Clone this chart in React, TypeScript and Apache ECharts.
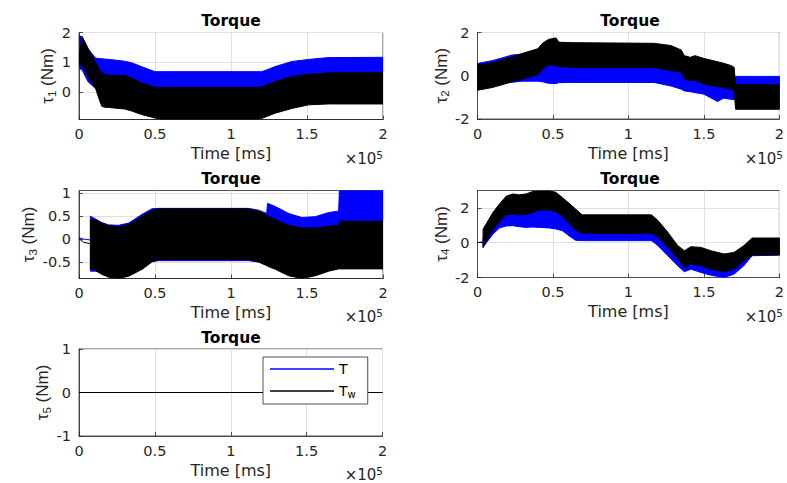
import React, { useEffect, useRef } from "react";
import * as echarts from "echarts";

// ---------- data (time in ms, torque in Nm) ----------
const xTicks = [0, 50000, 100000, 150000, 200000];

// Plot 1 (tau_1): envelopes of the oscillating signals
const t1 = [0, 2000, 6000, 11000, 13000, 15000, 17000, 20000, 30000, 35000, 41000, 50000, 55000, 117000, 120000, 123000, 129000, 140000, 151000, 164000, 200000];
const blueHi1 = [1.9, 1.85, 1.45, 1.14, 1.13, 1.12, 1.11, 1.1, 1.04, 0.98, 0.86, 0.69, 0.69, 0.69, 0.69, 0.74, 0.86, 1.03, 1.1, 1.16, 1.17];
const blueLo1 = [0.8, 0.75, 0.35, 0.12, 0.1, 0.08, 0.05, 0.05, 0.0, -0.1, -0.2, -0.3, -0.3, -0.3, -0.3, -0.25, -0.15, 0.0, 0.1, 0.15, 0.15];
const blackHi1 = [1.15, 1.87, 1.47, 0.98, 0.8, 0.65, 0.6, 0.57, 0.56, 0.47, 0.32, 0.16, 0.16, 0.16, 0.18, 0.24, 0.36, 0.53, 0.6, 0.65, 0.65];
const blackLo1 = [0.95, 0.9, 0.5, 0.12, -0.2, -0.47, -0.5, -0.51, -0.56, -0.63, -0.74, -0.86, -0.9, -0.9, -0.88, -0.82, -0.7, -0.54, -0.42, -0.39, -0.39];

// Plot 2 (tau_2)
const t2 = [0, 10000, 23000, 30000, 40000, 43000, 47000, 52000, 54000, 63000, 117000, 128000, 135000, 137000, 141000, 144000, 150000, 159000, 163000, 168000, 170000, 171000, 200000];
const blackHi2 = [0.51, 0.6, 0.88, 1.04, 1.25, 1.5, 1.68, 1.75, 1.55, 1.53, 1.5, 1.4, 1.19, 0.93, 0.85, 0.93, 0.8, 0.65, 0.58, 0.47, 0.39, -0.42, -0.42];
const blackLo2 = [-0.67, -0.54, -0.28, -0.15, 0.05, 0.31, 0.51, 0.47, 0.42, 0.39, 0.39, 0.23, 0.16, -0.15, -0.23, -0.2, -0.39, -0.5, -0.55, -0.62, -0.7, -1.55, -1.55];
const blueHi2 = [0.57, 0.7, 0.96, 1.0, 1.1, 1.1, 1.0, 1.0, 1.0, 1.0, 1.0, 0.9, 0.7, 0.5, 0.4, 0.4, 0.3, 0.15, 0.1, 0.0, -0.05, -0.03, -0.03];
const blueLo2 = [-0.47, -0.35, -0.3, -0.25, -0.25, -0.28, -0.35, -0.36, -0.32, -0.31, -0.31, -0.47, -0.62, -0.7, -0.74, -0.78, -0.85, -1.19, -1.04, -1.09, -1.1, -0.6, -0.6];

// Plot 3 (tau_3)
const t3 = [7500, 10800, 15000, 19500, 26000, 32700, 41500, 48000, 52400, 111600, 118200, 123500, 124000, 129200, 137900, 146700, 155500, 164300, 170800, 171300, 200000];
const blackHi3 = [0.43, 0.42, 0.34, 0.29, 0.27, 0.32, 0.5, 0.63, 0.66, 0.66, 0.61, 0.52, 0.51, 0.42, 0.3, 0.24, 0.24, 0.28, 0.3, 0.39, 0.39];
const blackLo3 = [-0.65, -0.68, -0.77, -0.83, -0.86, -0.81, -0.66, -0.5, -0.45, -0.45, -0.5, -0.58, -0.59, -0.66, -0.8, -0.86, -0.8, -0.7, -0.65, -0.65, -0.65];
const blueHi3 = [0.5, 0.44, 0.36, 0.31, 0.3, 0.35, 0.54, 0.66, 0.67, 0.67, 0.63, 0.56, 0.78, 0.71, 0.56, 0.47, 0.49, 0.58, 0.61, 1.06, 1.06];
const blueLo3 = [-0.7, -0.7, -0.74, -0.78, -0.8, -0.76, -0.62, -0.49, -0.47, -0.47, -0.5, -0.56, -0.57, -0.62, -0.76, -0.82, -0.76, -0.66, -0.6, -0.6, -0.6];
const t3a = [0, 3000, 7500];
const blueLine3 = [0.03, 0.0, -0.02];
const blackLine3 = [0.01, -0.07, -0.1];

// Plot 4 (tau_4)
const t4 = [3700, 5900, 10300, 14600, 19000, 23400, 27800, 32100, 36500, 40900, 47400, 51800, 56200, 60600, 64900, 69300, 115200, 119600, 126100, 132700, 137100, 141400, 148000, 154600, 163300, 169900, 176400, 181900, 200000];
const blackHi4 = [0.79, 1.1, 1.75, 2.23, 2.67, 2.8, 2.75, 2.8, 2.94, 2.98, 2.98, 2.9, 2.6, 2.27, 1.94, 1.6, 1.6, 1.27, 0.6, -0.17, -0.46, -0.23, -0.27, -0.46, -0.65, -0.56, -0.17, 0.27, 0.27];
const blackLo4 = [-0.27, 0.1, 0.79, 1.21, 1.6, 1.65, 1.6, 1.62, 1.75, 1.88, 1.88, 1.79, 1.5, 1.1, 0.72, 0.54, 0.54, 0.3, -0.27, -0.94, -1.42, -1.23, -1.33, -1.52, -1.67, -1.52, -1.04, -0.71, -0.71];
const blueHi4 = [0.3, 0.6, 1.2, 1.6, 2.0, 2.1, 2.0, 2.0, 2.2, 2.3, 2.3, 2.2, 2.0, 1.6, 1.3, 1.0, 1.0, 0.7, 0.1, -0.6, -1.0, -0.8, -0.9, -1.0, -1.2, -1.1, -0.6, -0.2, -0.2];
const blueLo4 = [-0.27, 0.0, 0.5, 0.85, 0.96, 0.98, 0.92, 0.88, 0.9, 0.88, 0.85, 0.79, 0.69, 0.4, 0.14, 0.12, 0.12, -0.17, -0.75, -1.33, -1.67, -1.52, -1.71, -1.87, -2.0, -1.81, -1.33, -0.75, -0.71];
const t4a = [0, 3700];
const blueLine4 = [0.0, 0.05];
const blackLine4 = [0.02, 0.0];

// Plot 5 (tau_5)
const t5 = [0, 200000];
const blue5 = [0, 0];
const black5 = [0, 0];

// axis ranges and tick labels
const yMins = [-0.91, -2, -0.86, -2, -1];
const yMaxs = [2, 2, 1.06, 3, 1];
const yTicks = [[0, 1, 2], [-2, 0, 2], [-0.5, 0, 0.5, 1], [-2, 0, 2], [-1, 0, 1]];
const yNames = ["τ{sub|1} (Nm)", "τ{sub|2} (Nm)", "τ{sub|3} (Nm)", "τ{sub|4} (Nm)", "τ{sub|5} (Nm)"];
const titles = ["Torque", "Torque", "Torque", "Torque", "Torque"];
const legendNames = ["T", "T_w"];

const BLUE = "#0000ff";
const BLACK = "#000000";
const FONT = "'DejaVu Sans', sans-serif";
const LFONT = "'Liberation Sans', Arial, sans-serif";
const AXC = "#262626";

const grids = [
  { left: 79, top: 32.5, width: 304, height: 87 },
  { left: 477.5, top: 32.5, width: 305, height: 86.5 },
  { left: 79, top: 190.5, width: 304, height: 88 },
  { left: 477.5, top: 190.5, width: 305, height: 87 },
  { left: 79, top: 349, width: 303.5, height: 87 },
];

function band(idx: number, t: number[], hi: number[], lo: number[], color: string, name: string) {
  return {
    type: "custom",
    name,
    xAxisIndex: idx,
    yAxisIndex: idx,
    silent: true,
    clip: true,
    data: [[t[0], hi[0]]],
    renderItem: (_p: any, api: any) => {
      const pts: number[][] = [];
      for (let i = 0; i < t.length; i++) pts.push(api.coord([t[i], hi[i]]));
      for (let i = t.length - 1; i >= 0; i--) pts.push(api.coord([t[i], lo[i]]));
      return {
        type: "polygon",
        shape: { points: pts },
        style: { fill: color, stroke: color, lineWidth: 1 },
      };
    },
  };
}

function line(idx: number, t: number[], v: number[], color: string, name: string) {
  return {
    type: "line",
    name,
    xAxisIndex: idx,
    yAxisIndex: idx,
    silent: true,
    symbol: "none",
    showSymbol: false,
    data: t.map((x, i) => [x, v[i]]),
    lineStyle: { color, width: 1 },
    itemStyle: { color },
  };
}

export default function App() {
  const ref = useRef<HTMLDivElement>(null);
  useEffect(() => {
    if (!ref.current) return;
    const chart = echarts.init(ref.current, undefined, { renderer: "svg" });
    const xAxis = grids.map((_, i) => ({
      gridIndex: i,
      type: "value",
      min: 0,
      max: 200000,
      interval: 50000,
      axisLine: { show: true, onZero: false, lineStyle: { color: AXC, width: 0.8 } },
      axisTick: { show: true, inside: true, length: 4, customValues: xTicks, lineStyle: { color: AXC, width: 0.8 } },
      axisLabel: {
        customValues: xTicks,
        formatter: (v: number) => String(v / 100000),
        color: AXC,
        fontFamily: FONT,
        fontSize: 14.5,
        margin: 7,
      },
      splitLine: { show: true, lineStyle: { color: "#dfdfdf", width: 1 } },
      name: "Time [ms]",
      nameLocation: "middle",
      nameGap: 26,
      nameTextStyle: { color: AXC, fontFamily: FONT, fontSize: 16 },
    }));
    const yAxis = grids.map((_, i) => ({
      gridIndex: i,
      type: "value",
      min: yMins[i],
      max: yMaxs[i],
      axisLine: { show: true, onZero: false, lineStyle: { color: AXC, width: 0.8 } },
      axisTick: { show: true, inside: true, length: 4, customValues: yTicks[i], lineStyle: { color: AXC, width: 0.8 } },
      axisLabel: {
        customValues: yTicks[i],
        formatter: (v: number) => String(v),
        color: AXC,
        fontFamily: FONT,
        fontSize: 14.5,
        margin: 8,
      },
      splitLine: { show: true, lineStyle: { color: "#dfdfdf", width: 1 } },
      name: yNames[i],
      nameLocation: "middle",
      nameRotate: 90,
      nameGap: 21,
      nameTextStyle: {
        color: AXC,
        fontFamily: LFONT,
        fontSize: 17,
        lineHeight: 20,
        rich: { sub: { fontSize: 11.5, lineHeight: 11, verticalAlign: "bottom", fontFamily: LFONT, color: AXC } },
      },
    }));
    const titleCenters = [231, 630, 231, 630, 231];
    const titleTops = [13, 13, 171, 171, 330];
    const title = titles.map((txt, i) => ({
      text: txt,
      left: titleCenters[i],
      top: titleTops[i],
      textAlign: "center",
      padding: 0,
      textStyle: { fontFamily: FONT, fontWeight: "bold", fontSize: 15.5, color: "#000" },
    }));
    const expPos = [[383, 159], [783, 159], [383, 317], [783, 317], [383, 475]];
    const graphic = expPos.map(([x, y]) => ({
      type: "text",
      x,
      y,
      silent: true,
      style: {
        text: "×10{sup|5}",
        align: "right",
        verticalAlign: "middle",
        fill: AXC,
        fontFamily: FONT,
        fontSize: 15,
        lineHeight: 20,
        rich: { sup: { fontSize: 10.5, lineHeight: 10, verticalAlign: "top", fill: AXC, fontFamily: FONT } },
      },
    }));
    const series: any[] = [
      band(0, t1, blueHi1, blueLo1, BLUE, "band1"),
      band(0, t1, blackHi1, blackLo1, BLACK, "bandw1"),
      band(1, t2, blueHi2, blueLo2, BLUE, "band2"),
      band(1, t2, blackHi2, blackLo2, BLACK, "bandw2"),
      line(2, t3a, blueLine3, BLUE, "line3"),
      line(2, t3a, blackLine3, BLACK, "linew3"),
      band(2, t3, blueHi3, blueLo3, BLUE, "band3"),
      band(2, t3, blackHi3, blackLo3, BLACK, "bandw3"),
      line(3, t4a, blueLine4, BLUE, "line4"),
      line(3, t4a, blackLine4, BLACK, "linew4"),
      band(3, t4, blueHi4, blueLo4, BLUE, "band4"),
      band(3, t4, blackHi4, blackLo4, BLACK, "bandw4"),
      line(4, t5, blue5, BLUE, legendNames[0]),
      line(4, t5, black5, BLACK, legendNames[1]),
    ];
    chart.setOption({
      animation: false,
      backgroundColor: "#ffffff",
      title,
      grid: grids.map((g) => ({ ...g, show: true, borderColor: AXC, borderWidth: 0.8, backgroundColor: "#fff" })),
      xAxis,
      yAxis,
      series,
      graphic,
      legend: {
        data: legendNames,
        left: 263,
        top: 357,
        orient: "vertical",
        icon: "rect",
        itemWidth: 64,
        itemHeight: 1.5,
        itemGap: 6,
        padding: [4, 12, 5, 7],
        borderColor: AXC,
        borderWidth: 0.8,
        backgroundColor: "#fff",
        selectedMode: false,
        formatter: (n: string) => (n === "T_w" ? "T{sub|w}" : "T"),
        textStyle: {
          fontFamily: FONT,
          fontSize: 14,
          color: "#000",
          lineHeight: 16,
          rich: { sub: { fontSize: 10, lineHeight: 10, verticalAlign: "bottom", fontFamily: FONT, color: "#000" } },
        },
      },
    });
    return () => chart.dispose();
  }, []);
  return <div ref={ref} style={{ position: "fixed", left: 0, top: 0, width: 787, height: 483 }} />;
}
